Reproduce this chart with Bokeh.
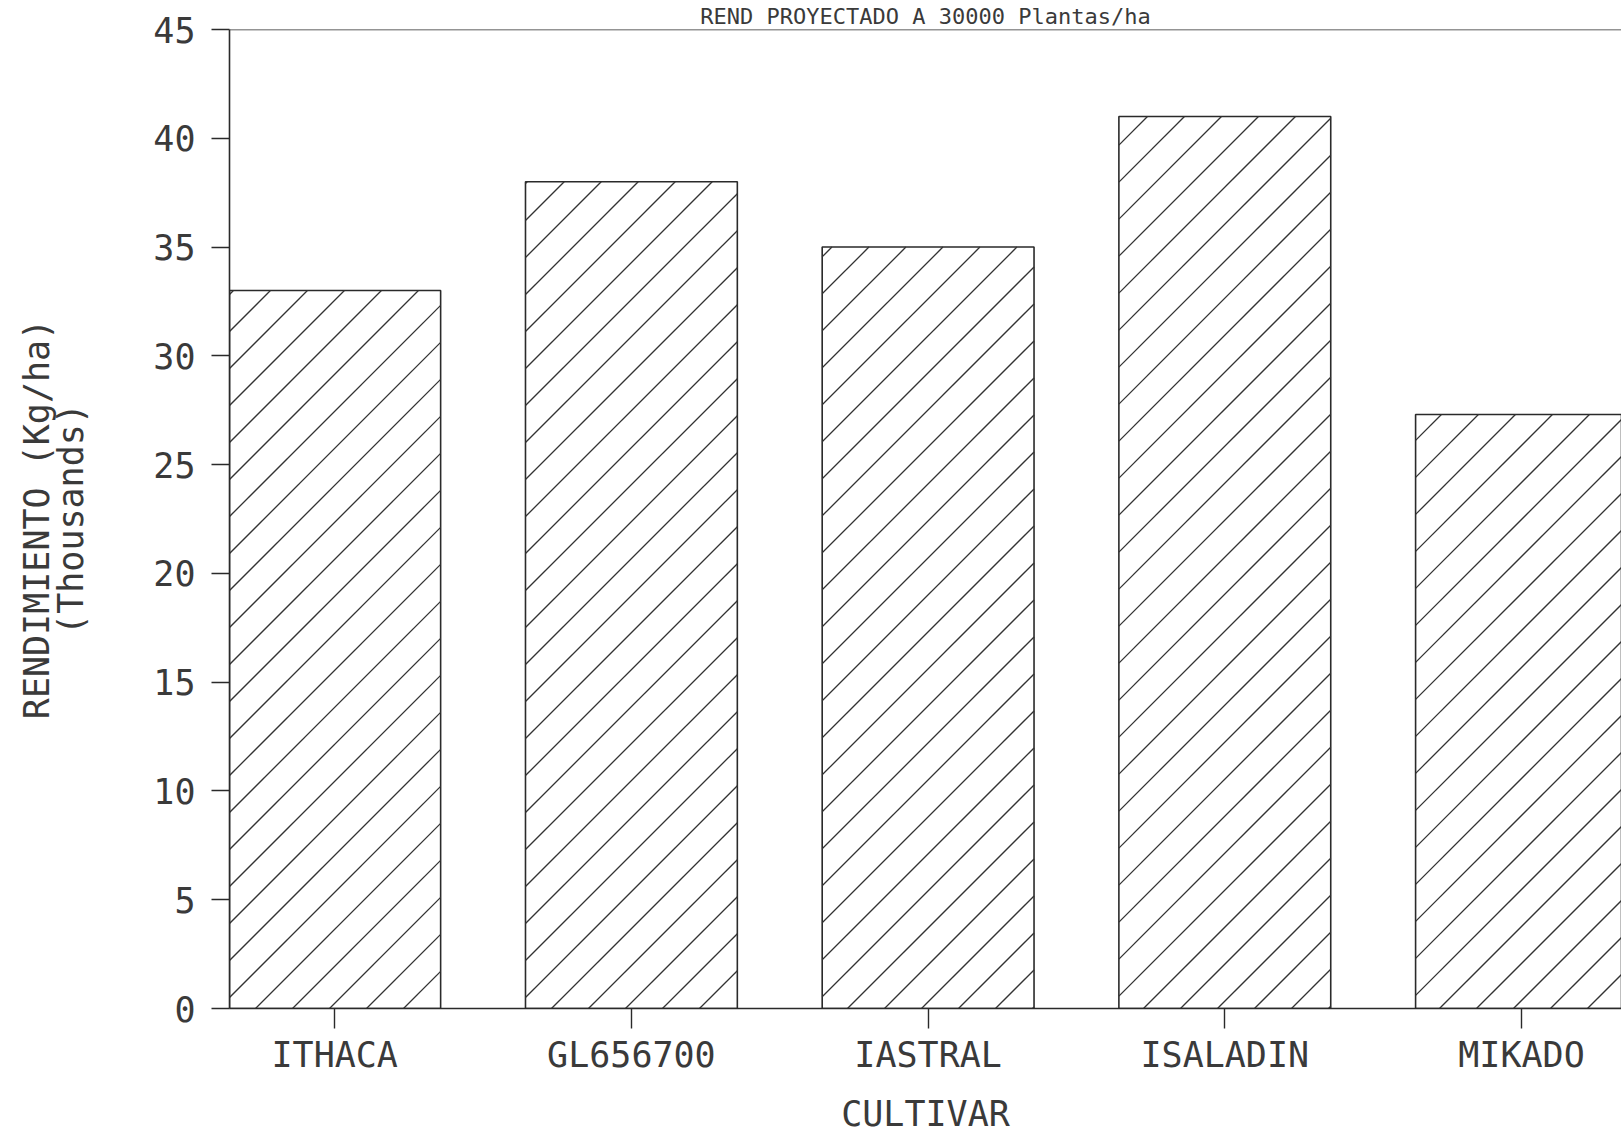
from bokeh.plotting import figure
from bokeh.models import Range1d, FixedTicker, Span, ColumnDataSource
from bokeh.embed import file_html
from bokeh.resources import INLINE

cultivars = ["ITHACA", "GL656700", "IASTRAL", "ISALADIN", "MIKADO"]
yield_k = [33.0, 38.0, 35.0, 41.0, 27.3]
y_ticks = [0, 5, 10, 15, 20, 25, 30, 35, 40, 45]
title_text = "REND PROYECTADO A 30000 Plantas/ha"
x_title = "CULTIVAR"
y_title = "RENDIMIENTO (Kg/ha)\n(Thousands)"

positions = list(range(1, len(cultivars) + 1))
src = ColumnDataSource(dict(x=positions, top=yield_k, name=cultivars))

FONT = "DejaVu Sans Mono"
INK = "#2a2a2a"
TXT = "#3a3a3a"
FS = "35px"

W, H = 1621, 1137
BL, BT, BB = 229, 29, 129
X0, X1 = 0.6454, 5.337
Y0, Y1 = 0, 45
BAR_W = 0.714

p = figure(width=W, height=H, output_backend="svg", toolbar_location=None,
           x_range=Range1d(X0, X1), y_range=Range1d(Y0, Y1),
           min_border_left=BL, min_border_top=BT, min_border_bottom=BB,
           min_border_right=0)
p.outline_line_color = None
p.background_fill_color = "white"
p.border_fill_color = "white"
p.xgrid.visible = False
p.ygrid.visible = False

p.title.text = title_text
p.title.align = "center"
p.title.text_font = FONT
p.title.text_font_size = "22px"
p.title.text_font_style = "normal"
p.title.text_color = TXT
p.title.standoff = 1

p.vbar(x="x", top="top", bottom=0, width=BAR_W, source=src,
       fill_color="white", line_color=INK, line_width=1.6)

# 45-degree (screen) hatching inside each bar, derived from the bar data
kx = (W - BL) / (X1 - X0)          # px per x unit
ky = (H - BT - BB) / (Y1 - Y0)     # px per y unit
spacing = 37.0
phase = 26.0
hx0, hy0, hx1, hy1 = [], [], [], []
for xc, top in zip(positions, yield_k):
    xl = (xc - BAR_W / 2 - X0) * kx
    xr = (xc + BAR_W / 2 - X0) * kx
    yt = top * ky
    k_min = int((xl - yt - phase) // spacing) - 1
    k_max = int((xr - phase) // spacing) + 1
    for k in range(k_min, k_max + 1):
        c = phase + k * spacing          # line: Y = X - c
        a = max(xl, c)
        b = min(xr, yt + c)
        if b - a > 1:
            hx0.append(X0 + a / kx); hy0.append((a - c) / ky)
            hx1.append(X0 + b / kx); hy1.append((b - c) / ky)
p.segment(x0=hx0, y0=hy0, x1=hx1, y1=hy1, line_color="#333333", line_width=1.3)

p.add_layout(Span(location=Y1, dimension="width", line_color=INK, line_width=1.6))

p.xaxis.ticker = FixedTicker(ticks=positions)
p.xaxis.major_label_overrides = {pos: name for pos, name in zip(positions, cultivars)}
p.yaxis.ticker = FixedTicker(ticks=y_ticks)
for ax in (p.xaxis[0], p.yaxis[0]):
    ax.axis_line_color = INK
    ax.axis_line_width = 1.6
    ax.major_tick_line_color = INK
    ax.major_tick_line_width = 1.4
    ax.major_tick_in = 0
    ax.minor_tick_line_color = None
    ax.major_label_text_font = FONT
    ax.major_label_text_font_size = FS
    ax.major_label_text_color = TXT
    ax.axis_label_text_font = FONT
    ax.axis_label_text_font_size = FS
    ax.axis_label_text_font_style = "normal"
    ax.axis_label_text_color = TXT

p.xaxis.major_tick_out = 20
p.xaxis.major_label_standoff = 6
p.xaxis.axis_label = x_title
p.xaxis.axis_label_standoff = 16

p.yaxis.major_tick_out = 18
p.yaxis.major_label_standoff = 16
p.yaxis.axis_label = y_title
p.yaxis.axis_label_text_line_height = 0.85
p.yaxis.axis_label_standoff = 59

open("out.html", "w").write(file_html(p, INLINE))
